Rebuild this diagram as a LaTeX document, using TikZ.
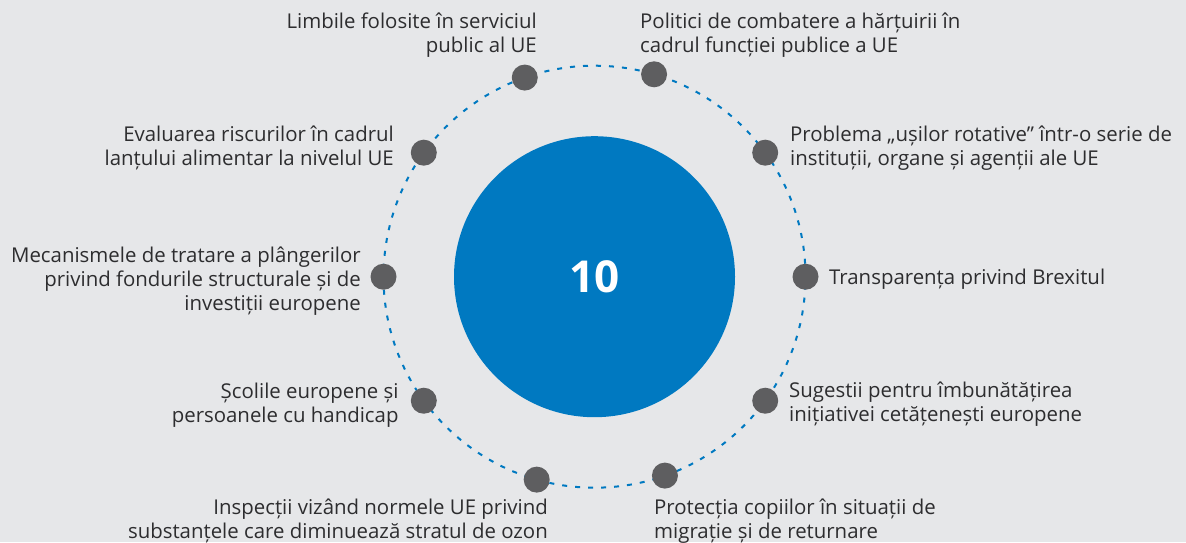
\documentclass[tikz,border=0pt]{standalone}
\usepackage{fontspec}
\setmainfont{Open Sans}
\definecolor{bg}{HTML}{E6E7E9}
\definecolor{ecablue}{HTML}{0079C1}
\definecolor{dotgray}{HTML}{5E5E60}
\definecolor{txt}{HTML}{2D2D2F}
\begin{document}
\begin{tikzpicture}[x=1pt,y=1pt,
  lbl/.style={text=txt, font=\fontsize{20.4}{24}\selectfont, inner sep=0pt},
  lblr/.style={lbl, align=right, anchor=base east},
  lbll/.style={lbl, align=left, anchor=base west},
  dot/.style={circle, fill=dotgray, minimum size=26pt, inner sep=0pt},
  ring/.style={draw=ecablue, line width=2pt, dash pattern=on 5pt off 8pt},
  core/.style={circle, fill=ecablue, minimum size=281pt, inner sep=0pt, text=white,
    font=\bfseries\fontsize{44}{44}\selectfont}]
\fill[bg] (0,0) rectangle (1186,-542);
\useasboundingbox (0,0) rectangle (1186,-542);
\coordinate (c) at (594.5,-276.7);
\draw[ring] (c) circle[radius=211];
\node[core] (center) at (c) {10};
\foreach \a/\n in {0/d0,36/d36,73.6/d72,109.3/d108,144/d144,180/d180,216/d216,254.1/d252,289.5/d288,324/d324}
  \node[dot] (\n) at ([shift={(\a:211)}]c) {};
% base anchor of a multi-line node = baseline of its last line
\node[lblr] (l108) at (537,-52) {Limbile folosite în serviciul\\public al UE};
\node[lbll] (l72) at (640,-52) {Politici de combatere a hărțuirii în\\cadrul funcției publice a UE};
\node[lbll] (l36) at (790,-165.5) {Problema „ușilor rotative” într-o serie de\\instituții, organe și agenții ale UE};
\node[lblr] (l144) at (394,-165.5) {Evaluarea riscurilor în cadrul\\lanțului alimentar la nivelul UE};
\node[lblr] (l180) at (361,-310) {Mecanismele de tratare a plângerilor\\privind fondurile structurale și de\\investiții europene};
\node[lbll] (l0) at (829,-284.3) {Transparența privind Brexitul};
\node[lblr] (l216) at (398.7,-422.3) {Școlile europene și\\persoanele cu handicap};
\node[lbll] (l324) at (789,-421.7) {Sugestii pentru îmbunătățirea\\inițiativei cetățenești europene};
\node[lblr] (l252) at (548,-538.5) {Inspecții vizând normele UE privind\\substanțele care diminuează stratul de ozon};
\node[lbll] (l288) at (654,-538.5) {Protecția copiilor în situații de\\migrație și de returnare};
\end{tikzpicture}
\end{document}
